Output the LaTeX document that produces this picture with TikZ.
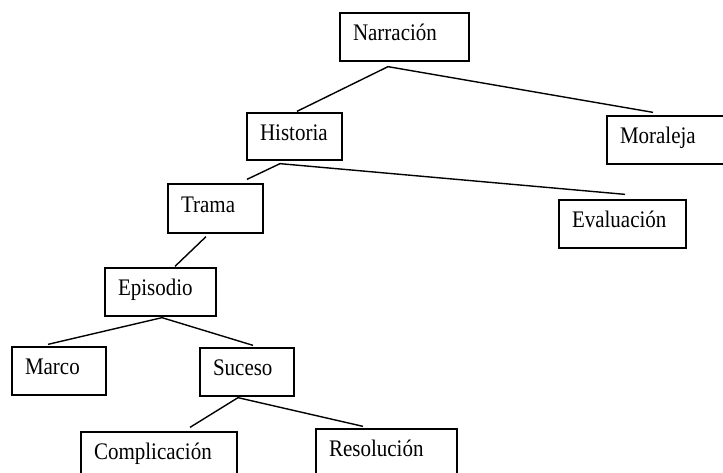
\documentclass[tikz,border=0pt]{standalone}
\usepackage{fontspec}
\usepackage{graphicx}
\setmainfont{Liberation Serif}
\usetikzlibrary{calc}
\newcommand\tallt[1]{\scalebox{1}[1.13]{#1}}
\begin{document}
\begin{tikzpicture}[x=1pt,y=-1pt,
  box/.style={draw, line width=1.3pt, align=left, inner xsep=13pt, inner ysep=0pt,
    text height=15pt, text depth=8pt, font=\fontsize{21}{24}\selectfont},
  link/.style={line width=1.4pt}]
\useasboundingbox (0,0) rectangle (723,472);
\clip (0,0) rectangle (723,472);
\node[box, text width=103pt, minimum height=48pt] (narr)   at (404.5,37)  {\tallt{Narración}};
\node[box, text width=69pt,  minimum height=47pt] (hist)   at (294.5,136.5) {\tallt{Historia}};
\node[box, text width=102pt, minimum height=48pt] (mora)   at (671,140)   {\tallt{Moraleja}};
\node[box, text width=69pt,  minimum height=49pt] (trama)  at (215.5,208.5) {\tallt{Trama}};
\node[box, text width=101pt, minimum height=48pt] (eval)   at (622.5,224) {\tallt{Evaluación}};
\node[box, text width=85pt,  minimum height=48pt] (epi)    at (160.5,292) {\tallt{Episodio}};
\node[box, text width=68pt,  minimum height=48pt] (marco)  at (59,371)    {\tallt{Marco}};
\node[box, text width=68pt,  minimum height=48pt] (suceso) at (247,372)   {\tallt{Suceso}};
\node[box, text width=130pt, minimum height=48pt] (compl)  at (159,456)   {\tallt{Complicación}};
\node[box, text width=115pt, minimum height=48pt] (resol)  at (386.5,453) {\tallt{Resolución}};
\draw[link] ($(narr.south)+(-16.5,5)$) -- ($(hist.north)+(2.5,-1)$);
\draw[link] ($(narr.south)+(-16.5,5)$) -- ($(mora.north)+(-18,-3)$);
\draw[link] ($(hist.south)+(-14.5,3)$) -- ($(trama.north)+(31.5,-4)$);
\draw[link] ($(hist.south)+(-14.5,3)$) -- ($(eval.north)+(2.5,-5)$);
\draw[link] ($(trama.south)+(-9.5,3)$) -- ($(epi.north)+(14.5,-1)$);
\draw[link] ($(epi.south)+(1.5,1)$) -- ($(marco.north)+(-11,-2)$);
\draw[link] ($(epi.south)+(1.5,1)$) -- ($(suceso.north)+(6,-2)$);
\draw[link] ($(suceso.south)+(-9,1)$) -- ($(compl.north)+(31,-4)$);
\draw[link] ($(suceso.south)+(-9,1)$) -- ($(resol.north)+(-23.5,-2)$);
\end{tikzpicture}
\end{document}
